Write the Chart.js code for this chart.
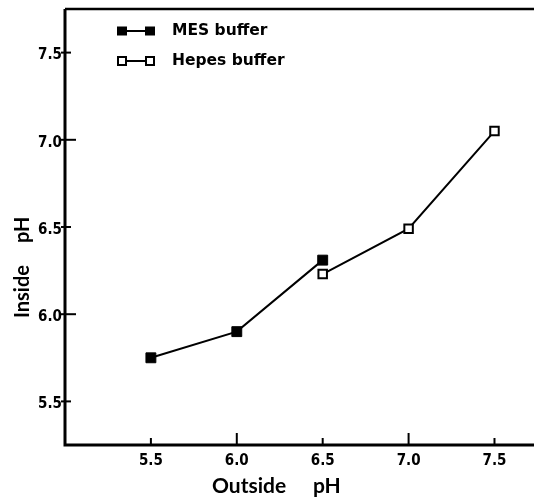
<!DOCTYPE html>
<html>
<head>
<meta charset="utf-8">
<script src="https://cdn.jsdelivr.net/npm/chart.js@4"></script>
<style>
html,body{margin:0;padding:0;background:#fff;}
#wrap{width:534px;height:497px;position:relative;}
</style>
</head>
<body>
<div id="wrap"><canvas id="c" width="534" height="497"></canvas></div>
<script>
// ---- data ----
const mesX = [5.5, 6.0, 6.5];
const mesY = [5.75, 5.90, 6.31];
const hepesX = [6.5, 7.0, 7.5];
const hepesY = [6.23, 6.49, 7.05];
const xTicks = [5.5, 6.0, 6.5, 7.0, 7.5];
const yTicks = [5.5, 6.0, 6.5, 7.0, 7.5];
const xTickLabels = ['5.5', '6.0', '6.5', '7.0', '7.5'];
const yTickLabels = ['5.5', '6.0', '6.5', '7.0', '7.5'];
const seriesNames = ['MES buffer', 'Hepes buffer'];
const xTitle = ['Outside', 'pH'];
const yTitle = 'Inside pH';

const mesData = mesX.map((x, i) => ({x: x, y: mesY[i]}));
const hepesData = hepesX.map((x, i) => ({x: x, y: hepesY[i]}));

const FONT_TICK = 'bold 15px "DejaVu Sans Condensed", "DejaVu Sans", sans-serif';
const FONT_LEG = 'bold 15.5px "DejaVu Sans", sans-serif';

const framePlugin = {
  id: 'frame',
  afterDatasetsDraw(chart) {
    const ctx = chart.ctx;
    const a = chart.chartArea;
    const xs = chart.scales.x, ys = chart.scales.y;
    ctx.save();
    ctx.strokeStyle = '#000';
    ctx.fillStyle = '#000';
    // axes
    ctx.lineWidth = 3;
    ctx.beginPath();
    ctx.moveTo(a.left, a.top);
    ctx.lineTo(a.left, a.bottom);
    ctx.lineTo(a.right, a.bottom);
    ctx.stroke();
    ctx.lineWidth = 2.5;
    ctx.beginPath();
    ctx.moveTo(a.left, a.top);
    ctx.lineTo(a.right, a.top);
    ctx.stroke();
    // x ticks
    ctx.lineWidth = 2;
    ctx.font = FONT_TICK;
    ctx.textAlign = 'center';
    ctx.textBaseline = 'middle';
    xTicks.forEach((v, i) => {
      const px = xs.getPixelForValue(v);
      const len = (i % 2 === 1) ? 12 : 7;
      ctx.beginPath();
      ctx.moveTo(px, a.bottom);
      ctx.lineTo(px, a.bottom - len);
      ctx.stroke();
      ctx.fillText(xTickLabels[i], px, a.bottom + 16);
    });
    // y ticks
    ctx.textAlign = 'right';
    yTicks.forEach((v, i) => {
      const py = ys.getPixelForValue(v);
      const len = (i % 2 === 1) ? 11 : 6;
      ctx.beginPath();
      ctx.moveTo(a.left - 4, py);
      ctx.lineTo(a.left + len, py);
      ctx.stroke();
      ctx.fillText(yTickLabels[i], a.left - 3, py + 3);
    });
    // axis titles
    ctx.font = 'bold 21px Lato, "DejaVu Sans", sans-serif';
    ctx.textAlign = 'left';
    ctx.textBaseline = 'alphabetic';
    ctx.fillText(xTitle[0], 212, 493);
    ctx.fillText(xTitle[1], 313, 493);
    ctx.save();
    ctx.translate(29, 318);
    ctx.rotate(-Math.PI / 2);
    ctx.font = 'bold 20px Lato, "DejaVu Sans", sans-serif';
    ctx.fillText(yTitle.split(' ')[0], 0, 0);
    ctx.fillText(yTitle.split(' ')[1], 75, 0);
    ctx.restore();
    // legend
    const rows = [{y: 31, fill: true}, {y: 61, fill: false}];
    rows.forEach((r, i) => {
      ctx.lineWidth = 2;
      ctx.beginPath();
      ctx.moveTo(122, r.y);
      ctx.lineTo(150, r.y);
      ctx.stroke();
      [122, 150].forEach(cx => {
        if (r.fill) {
          ctx.fillStyle = '#000';
          ctx.fillRect(cx - 5, r.y - 4.5, 10, 9);
        } else {
          ctx.fillStyle = '#fff';
          ctx.fillRect(cx - 4, r.y - 4, 8, 8);
          ctx.strokeRect(cx - 4, r.y - 4, 8, 8);
        }
      });
      ctx.fillStyle = '#000';
      ctx.font = FONT_LEG;
      ctx.textAlign = 'left';
      ctx.textBaseline = 'middle';
      ctx.fillText(seriesNames[i], 172, r.y);
    });
    ctx.restore();
  }
};

new Chart(document.getElementById('c'), {
  type: 'scatter',
  data: {
    datasets: [
      {
        label: seriesNames[0],
        data: mesData,
        showLine: true,
        borderColor: '#000',
        borderWidth: 2,
        pointStyle: 'rect',
        pointRadius: 7,
        pointBackgroundColor: '#000',
        pointBorderColor: '#000',
        pointBorderWidth: 1
      },
      {
        label: seriesNames[1],
        data: hepesData,
        showLine: true,
        borderColor: '#000',
        borderWidth: 2,
        pointStyle: 'rect',
        pointRadius: 6,
        pointBackgroundColor: '#fff',
        pointBorderColor: '#000',
        pointBorderWidth: 2
      }
    ]
  },
  options: {
    responsive: false,
    animation: false,
    devicePixelRatio: 1,
    layout: {autoPadding: false, padding: {left: 65, top: 9, right: 0, bottom: 52}},
    plugins: {legend: {display: false}, tooltip: {enabled: false}},
    scales: {
      x: {type: 'linear', min: 5.0, max: 7.73, display: false},
      y: {type: 'linear', min: 5.25, max: 7.75, display: false}
    }
  },
  plugins: [framePlugin]
});
</script>
</body>
</html>
